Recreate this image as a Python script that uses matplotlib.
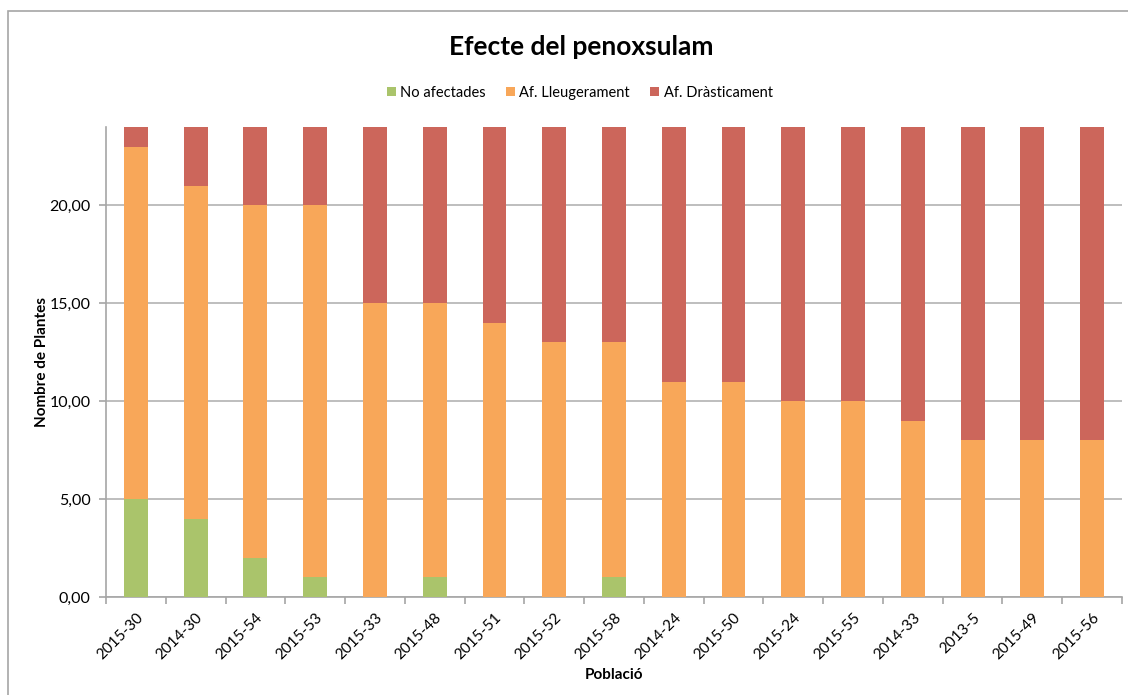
import numpy as np
import matplotlib.pyplot as plt
from matplotlib.patches import Rectangle
from matplotlib.ticker import FuncFormatter

plt.rcParams['font.family'] = ['Lato', 'DejaVu Sans']

poblacions = ['2015-30', '2014-30', '2015-54', '2015-53', '2015-33', '2015-48',
              '2015-51', '2015-52', '2015-58', '2014-24', '2015-50', '2015-24',
              '2015-55', '2014-33', '2013-5', '2015-49', '2015-56']
no_afectades = [5, 4, 2, 1, 0, 1, 0, 0, 1, 0, 0, 0, 0, 0, 0, 0, 0]
lleugerament = [18, 17, 18, 19, 15, 14, 14, 13, 12, 11, 11, 10, 10, 9, 8, 8, 8]
drasticament = [1, 3, 4, 4, 9, 9, 10, 11, 11, 13, 13, 14, 14, 15, 16, 16, 16]

verd = '#AAC46B'
taronja = '#F8A759'
vermell = '#CC665B'

fig = plt.figure(figsize=(11.28, 6.95), dpi=100)
ax = fig.add_axes([106 / 1128, 1 - 597 / 695, (1122 - 106) / 1128, (597 - 127) / 695])

x = np.arange(len(poblacions))
amplada = 0.4
b1 = np.array(no_afectades)
b2 = b1 + np.array(lleugerament)
ax.bar(x, no_afectades, amplada, color=verd, label='No afectades', zorder=3)
ax.bar(x, lleugerament, amplada, bottom=b1, color=taronja, label='Af. Lleugerament', zorder=3)
ax.bar(x, drasticament, amplada, bottom=b2, color=vermell, label='Af. Dràsticament', zorder=3)

ax.set_xlim(-0.5, len(poblacions) - 0.5)
ax.set_ylim(0, 24)
ax.set_yticks([0, 5, 10, 15, 20])
ax.yaxis.set_major_formatter(FuncFormatter(lambda v, p: f'{v:.2f}'.replace('.', ',')))
ax.yaxis.grid(True, color='#B3B3B3', linewidth=1.2, zorder=0)

ax.set_xticks(x)
ax.set_xticklabels(poblacions, rotation=45, ha='right', rotation_mode='anchor', fontsize=11)
ax.set_xticks(np.arange(len(poblacions) + 1) - 0.5, minor=True)
ax.tick_params(axis='x', which='major', length=0, pad=10)
ax.tick_params(axis='x', which='minor', length=5, color='#A6A6A6', width=1.2)
ax.tick_params(axis='y', length=5, color='#A6A6A6', width=1.2, labelsize=11.5, pad=6)

for s in ['top', 'right']:
    ax.spines[s].set_visible(False)
for s in ['left', 'bottom']:
    ax.spines[s].set_color('#A6A6A6')
    ax.spines[s].set_linewidth(1.2)

ax.set_ylabel('Nombre de Plantes', fontsize=11, fontweight='bold', labelpad=0)
ax.set_xlabel('Població', fontsize=11, fontweight='bold', labelpad=4)

fig.text(0.515, 1 - 47 / 695, 'Efecte del penoxsulam', ha='center', va='center',
         fontsize=19, fontweight='bold')
fig.legend(loc='center', bbox_to_anchor=(0.514, 1 - 93 / 695), ncol=3, frameon=False,
           fontsize=10.5, handlelength=0.6, handleheight=0.6, handletextpad=0.3,
           columnspacing=1.4)

fig.patches.append(Rectangle((8 / 1128, -0.01), 1.1, 1 - 11 / 695 + 0.01,
                             transform=fig.transFigure, fill=False,
                             edgecolor='#A6A6A6', linewidth=1.2))

fig.savefig('out.png', dpi=100)
